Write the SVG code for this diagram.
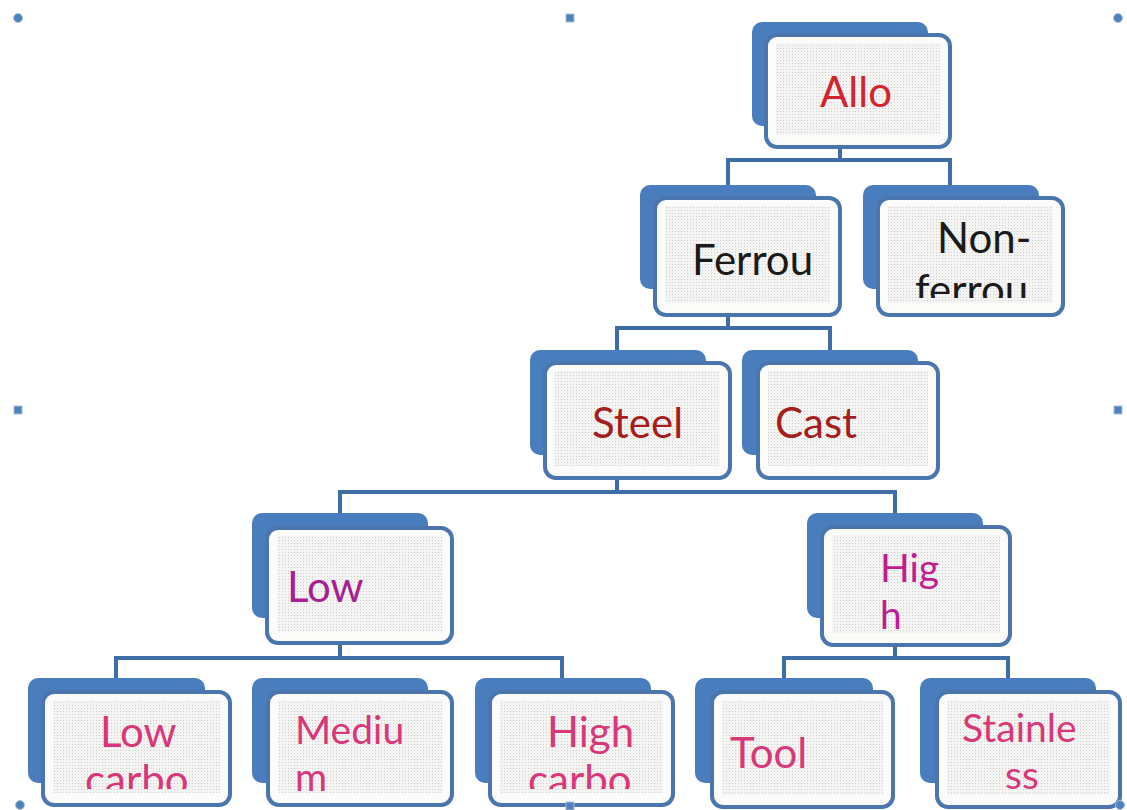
<svg xmlns="http://www.w3.org/2000/svg" width="1127" height="810" viewBox="0 0 1127 810">
<style>
.back{fill:#4a7dbd;}
.front{fill:#fbfbfa;stroke:#4a76ad;stroke-width:4;}
.tex{fill:url(#dots);}
.t{font-family:Lato,"Open Sans","Liberation Sans",sans-serif;font-size:42px;}
.t2{font-size:39px;}
.conn{fill:none;stroke:#3f6ea6;stroke-width:4;}
.h{fill:#4f81bd;stroke:#a9c1e0;stroke-width:1;}
.red{fill:#d2232f;}
.blk{fill:#1a1a1a;}
.dred{fill:#a51d1d;}
.pur{fill:#a61f93;}
.mag{fill:#c21c92;}
.pink{fill:#d83779;}
</style>
<defs>
<pattern id="dots" width="3" height="3" patternUnits="userSpaceOnUse">
<rect width="3" height="3" fill="#f4f4f2"/>
<rect width="1" height="1" fill="#cfcfcf"/>
</pattern>
<clipPath id="cNon"><rect x="878" y="198" width="185" height="100"/></clipPath>
<clipPath id="cLC"><rect x="43" y="692" width="187" height="97"/></clipPath>
<clipPath id="cHC"><rect x="490" y="692" width="183" height="97"/></clipPath>
</defs>
<rect width="1127" height="810" fill="#ffffff"/>

<g id="connectors">
<path class="conn" d="M840 147V160M728 185V160H950V185"/>
<path class="conn" d="M728 315V328M617 350V328H830V350"/>
<path class="conn" d="M617 478V492M340 513V492H895V513"/>
<path class="conn" d="M340 643V658M116 678V658H562V678"/>
<path class="conn" d="M895 645V658M784 678V658H1008V678"/>
</g>

<g id="node-allo">
<rect class="back" x="752" y="22" width="176" height="104" rx="10"/>
<rect class="front" x="766" y="35" width="184" height="112" rx="11"/>
<rect class="tex" x="776" y="43" width="164" height="92"/>
<text class="t red" x="820" y="107">Allo</text>
</g>

<g id="node-ferrou">
<rect class="back" x="640" y="185" width="176" height="104" rx="10"/>
<rect class="front" x="655" y="198" width="185" height="117" rx="11"/>
<rect class="tex" x="665" y="206" width="165" height="97"/>
<text class="t blk" x="692" y="275">Ferrou</text>
</g>

<g id="node-nonferrou">
<rect class="back" x="863" y="185" width="176" height="104" rx="10"/>
<rect class="front" x="878" y="198" width="185" height="117" rx="11"/>
<rect class="tex" x="888" y="206" width="165" height="97"/>
<g clip-path="url(#cNon)">
<text class="t blk" x="937" y="253">Non-<tspan x="915" dy="52">ferrou</tspan></text>
</g>
</g>

<g id="node-steel">
<rect class="back" x="530" y="350" width="176" height="105" rx="10"/>
<rect class="front" x="545" y="363" width="185" height="115" rx="11"/>
<rect class="tex" x="555" y="371" width="165" height="95"/>
<text class="t dred" x="592" y="438">Steel</text>
</g>

<g id="node-cast">
<rect class="back" x="742" y="350" width="176" height="105" rx="10"/>
<rect class="front" x="758" y="363" width="180" height="115" rx="11"/>
<rect class="tex" x="768" y="371" width="160" height="95"/>
<text class="t dred" x="775" y="438">Cast</text>
</g>

<g id="node-low">
<rect class="back" x="252" y="513" width="176" height="105" rx="10"/>
<rect class="front" x="267" y="528" width="185" height="115" rx="11"/>
<rect class="tex" x="277" y="536" width="165" height="95"/>
<text class="t pur" x="287" y="602">Low</text>
</g>

<g id="node-high">
<rect class="back" x="807" y="513" width="176" height="105" rx="10"/>
<rect class="front" x="822" y="527" width="188" height="118" rx="11"/>
<rect class="tex" x="832" y="535" width="168" height="98"/>
<text class="t t2 mag" x="880" y="582">Hig<tspan x="880" dy="47">h</tspan></text>
</g>

<g id="node-lowcarbon">
<rect class="back" x="28" y="678" width="177" height="105" rx="10"/>
<rect class="front" x="43" y="692" width="187" height="113" rx="11"/>
<rect class="tex" x="53" y="700" width="167" height="93"/>
<g clip-path="url(#cLC)">
<text class="t pink" x="100" y="747">Low<tspan x="85" dy="48">carbo</tspan></text>
</g>
</g>

<g id="node-medium">
<rect class="back" x="252" y="678" width="176" height="105" rx="10"/>
<rect class="front" x="268" y="692" width="184" height="113" rx="11"/>
<rect class="tex" x="278" y="700" width="164" height="93"/>
<text class="t t2 pink" x="295" y="744">Mediu<tspan x="295" dy="47">m</tspan></text>
</g>

<g id="node-highcarbon">
<rect class="back" x="475" y="678" width="176" height="105" rx="10"/>
<rect class="front" x="490" y="692" width="183" height="113" rx="11"/>
<rect class="tex" x="500" y="700" width="163" height="93"/>
<g clip-path="url(#cHC)">
<text class="t pink" x="547" y="747">High<tspan x="528" dy="48">carbo</tspan></text>
</g>
</g>

<g id="node-tool">
<rect class="back" x="695" y="678" width="178" height="105" rx="10"/>
<rect class="front" x="712" y="692" width="181" height="115" rx="11"/>
<rect class="tex" x="722" y="700" width="161" height="95"/>
<text class="t pink" x="730" y="768">Tool</text>
</g>

<g id="node-stainless">
<rect class="back" x="920" y="678" width="176" height="105" rx="10"/>
<rect class="front" x="937" y="692" width="183" height="115" rx="11"/>
<rect class="tex" x="947" y="700" width="163" height="95"/>
<text class="t t2 pink" x="962" y="742">Stainle<tspan x="1005" dy="47">ss</tspan></text>
</g>

<g id="handles">
<circle class="h" cx="18" cy="18" r="4.5"/>
<rect class="h" x="566" y="14" width="8" height="8"/>
<circle class="h" cx="1118" cy="18" r="4.5"/>
<rect class="h" x="14" y="406" width="8" height="8"/>
<rect class="h" x="1114" y="406" width="8" height="8"/>
<circle class="h" cx="20" cy="805" r="4.5"/>
<rect class="h" x="566" y="802" width="8" height="8"/>
<circle class="h" cx="1120" cy="805" r="4.5"/>
</g>
</svg>
